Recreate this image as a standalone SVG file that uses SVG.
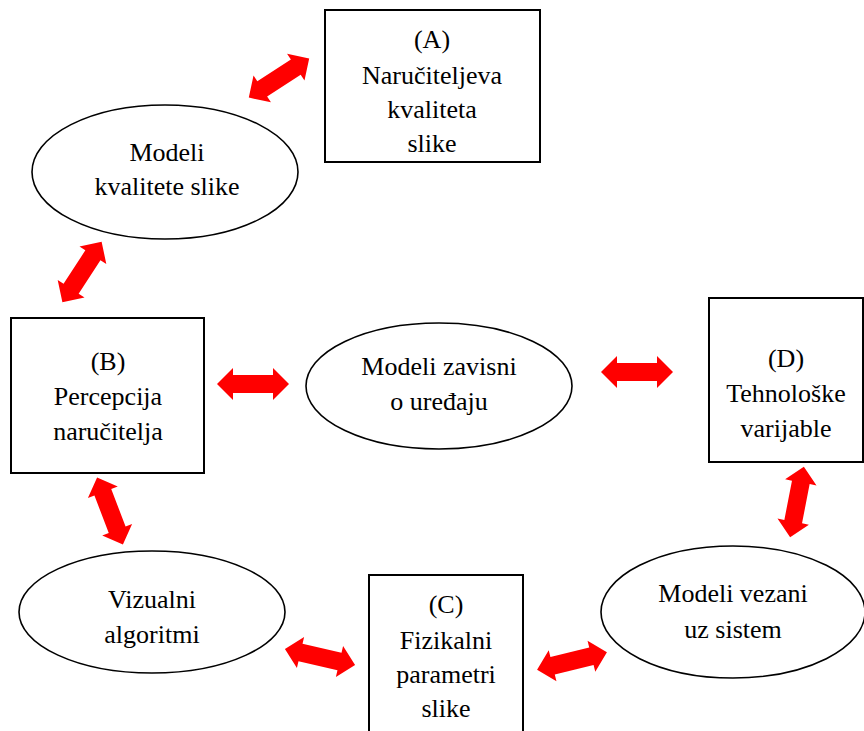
<svg xmlns="http://www.w3.org/2000/svg" xmlns:xlink="http://www.w3.org/1999/xlink" width="864" height="731" viewBox="0 0 864 731">
<style>
.box{fill:#fff;stroke:#000;stroke-width:2}
.ell{fill:#fff;stroke:#000;stroke-width:1.6}
text{font-family:"Liberation Serif","Times New Roman",serif;font-size:26px;fill:#000;text-anchor:middle}
.arr{fill:#ff0000}
</style>
<defs>
<polygon id="dbl" class="arr" points="-36,0 -20,-16 -20,-9 20,-9 20,-16 36,0 20,16 20,9 -20,9 -20,16"/>
</defs>
<rect width="864" height="731" fill="#fff"/>
<g id="connectors">
<use xlink:href="#dbl" transform="translate(279,78) rotate(-33)"/>
<use xlink:href="#dbl" transform="translate(82,272) rotate(-57)"/>
<use xlink:href="#dbl" transform="translate(253,384)"/>
<use xlink:href="#dbl" transform="translate(637,372)"/>
<use xlink:href="#dbl" transform="translate(797,502) rotate(-79)"/>
<use xlink:href="#dbl" transform="translate(110,511) rotate(69)"/>
<use xlink:href="#dbl" transform="translate(320,657) rotate(13)"/>
<use xlink:href="#dbl" transform="translate(572,661) rotate(-14)"/>
</g>
<g id="nodeA">
<rect class="box" x="325" y="10" width="215" height="152"/>
<text x="432" y="48">(A)</text>
<text x="432" y="84">Naručiteljeva</text>
<text x="432" y="118">kvaliteta</text>
<text x="432" y="152">slike</text>
</g>
<g id="ellQuality">
<ellipse class="ell" cx="165" cy="172" rx="133" ry="67"/>
<text x="167" y="161">Modeli</text>
<text x="167" y="195">kvalitete slike</text>
</g>
<g id="nodeB">
<rect class="box" x="11" y="318" width="193" height="155"/>
<text x="108" y="370">(B)</text>
<text x="108" y="405">Percepcija</text>
<text x="108" y="440">naručitelja</text>
</g>
<g id="ellDevice">
<ellipse class="ell" cx="439" cy="386" rx="133" ry="63"/>
<text x="439" y="375">Modeli zavisni</text>
<text x="439" y="410">o uređaju</text>
</g>
<g id="nodeD">
<rect class="box" x="709" y="298" width="154" height="164"/>
<text x="786" y="367">(D)</text>
<text x="786" y="402">Tehnološke</text>
<text x="786" y="437">varijable</text>
</g>
<g id="ellVisual">
<ellipse class="ell" cx="152" cy="612" rx="133" ry="61"/>
<text x="152" y="608">Vizualni</text>
<text x="152" y="643">algoritmi</text>
</g>
<g id="nodeC">
<rect class="box" x="369" y="575" width="154" height="170"/>
<text x="446" y="613">(C)</text>
<text x="446" y="649">Fizikalni</text>
<text x="446" y="683">parametri</text>
<text x="446" y="717">slike</text>
</g>
<g id="ellSystem">
<ellipse class="ell" cx="733" cy="612" rx="132" ry="66"/>
<text x="733" y="602">Modeli vezani</text>
<text x="733" y="638">uz sistem</text>
</g>
</svg>
